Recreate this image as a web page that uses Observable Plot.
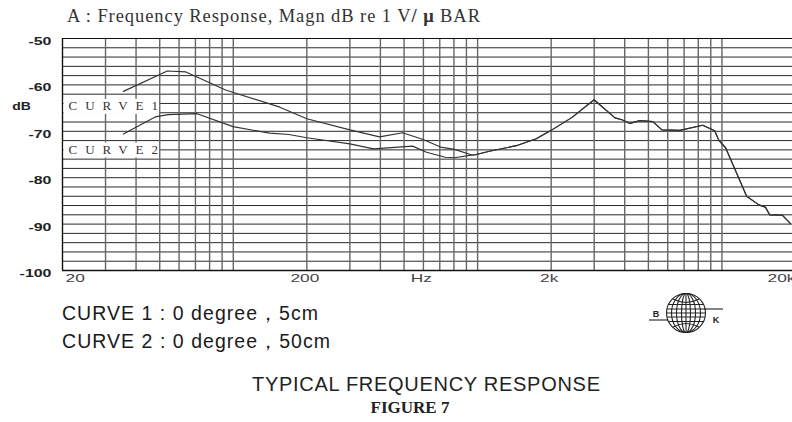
<!DOCTYPE html>
<html>
<head>
<meta charset="utf-8">
<script src="https://cdn.jsdelivr.net/npm/d3@7"></script>
<script src="https://cdn.jsdelivr.net/npm/@observablehq/plot@0.6"></script>
<style>
  body { margin: 0; background: #fff; }
  #wrap { position: relative; width: 792px; height: 422px; overflow: hidden; background: #fff; }
  #chart { position: absolute; left: 0; top: 0; }
  #overlay { position: absolute; left: 0; top: 0; pointer-events: none; }
  .curve-lab text { letter-spacing: 8px; }
</style>
</head>
<body>
<div id="wrap">
  <div id="chart"></div>
  <svg id="overlay" width="792" height="422" xmlns="http://www.w3.org/2000/svg">
    <text x="67" y="22" textLength="413" lengthAdjust="spacing" font-family="Liberation Serif, serif" font-size="18.5" fill="#333">A : Frequency Response, Magn dB re  1 V<tspan font-weight="bold">/</tspan> <tspan font-weight="bold">μ</tspan> BAR</text>
    <text id="n1" x="62" y="320" textLength="256" lengthAdjust="spacing" font-family="Liberation Sans, Arial, sans-serif" font-size="19.5" fill="#1a1a1a"></text>
    <text id="n2" x="62" y="348" textLength="268" lengthAdjust="spacing" font-family="Liberation Sans, Arial, sans-serif" font-size="19.5" fill="#1a1a1a"></text>
    <text id="t1" x="426" y="391" text-anchor="middle" textLength="348" lengthAdjust="spacing" font-family="Liberation Sans, Arial, sans-serif" font-size="20" fill="#222"></text>
    <text id="t2" x="410" y="413" text-anchor="middle" font-family="Liberation Serif, serif" font-weight="bold" font-size="17" fill="#222"></text>
    <g id="logo" stroke="#222" fill="none" stroke-width="1.1">
      <circle cx="686" cy="313" r="19.5" fill="#fff"/>
      <ellipse cx="686" cy="313" rx="4.5" ry="19.5"/>
      <ellipse cx="686" cy="313" rx="9.5" ry="19.5"/>
      <ellipse cx="686" cy="313" rx="14.5" ry="19.5"/>
      <line x1="686" y1="293.5" x2="686" y2="332.5"/>
      <line x1="668.5" y1="304.5" x2="703.5" y2="304.5"/>
      <line x1="667.2" y1="309" x2="704.8" y2="309"/>
      <line x1="666.5" y1="313" x2="705.5" y2="313"/>
      <line x1="667.2" y1="317" x2="704.8" y2="317"/>
      <line x1="668.5" y1="321.5" x2="703.5" y2="321.5"/>
      <path d="M673 299 Q686 306 699 299"/>
      <path d="M673 327 Q686 320 699 327"/>
      <line x1="649" y1="320" x2="668" y2="320"/>
      <line x1="704" y1="309" x2="723" y2="309"/>
      <text x="656" y="317" text-anchor="middle" font-family="Liberation Sans, Arial, sans-serif" font-weight="bold" font-size="9" fill="#222" stroke="none">B</text>
      <text x="716" y="323" text-anchor="middle" font-family="Liberation Sans, Arial, sans-serif" font-weight="bold" font-size="9" fill="#222" stroke="none">K</text>
    </g>
  </svg>
</div>
<script>
// ---- data ----
// Curve 1 (0 degree, 5 cm), low-frequency part
const curve1Freq = [35.5, 53.7, 64, 93, 104, 155, 200, 300, 397, 493, 595, 705, 804, 934];
const curve1Db   = [-61.4, -57.0, -57.2, -61.1, -61.9, -64.8, -67.3, -69.7, -71.2, -70.3, -71.7, -73.4, -73.9, -75.0];
// Curve 2 (0 degree, 50 cm), low-frequency part
const curve2Freq = [35.5, 47.9, 54.2, 71.1, 99.8, 141, 169, 200, 300, 375, 542, 618, 738, 804, 926];
const curve2Db   = [-70.6, -66.9, -66.4, -66.2, -69.0, -70.4, -70.7, -71.4, -72.7, -73.8, -73.2, -74.5, -75.6, -75.7, -75.2];
// Above ~1 kHz both curves coincide
const sharedFreq = [970, 1117, 1440, 1738, 2000, 2436, 2996, 3649, 3898, 4200, 4616, 5216, 5678, 6726, 8340, 9340, 9700, 10360, 12620, 14120, 15090, 15670, 17700, 19080];
const sharedDb   = [-75.1, -74.3, -73.1, -71.6, -69.8, -67.0, -63.2, -67.1, -67.5, -68.3, -67.7, -67.9, -69.7, -69.8, -68.7, -69.9, -71.9, -73.6, -84.0, -85.8, -86.4, -88.0, -88.1, -89.9];

// axis ticks / grid
const yTickValues = [-50, -60, -70, -80, -90, -100];
const yTickLabels = ["-50", "-60", "-70", "-80", "-90", "-100"];
const xLabelFreqs = [20, 200, 600, 2000, 20000];
const xLabelTexts = ["20", "200", "Hz", "2k", "20k"];
const gridFreqs = [30, 40, 50, 60, 70, 80, 90, 100, 200, 300, 400, 500, 600, 700, 800, 900, 1000,
                   2000, 3000, 4000, 5000, 6000, 7000, 8000, 9000, 10000, 20000];
const gridDb = d3.range(-100, -49, 2);

const curveNames = ["CURVE1", "CURVE2"];
const curveLabelDb = [-64.6, -74.0];

const notes = ["CURVE 1 : 0  degree\uFF0C5cm", "CURVE 2 : 0  degree\uFF0C50cm"];
const captionTitle = "TYPICAL FREQUENCY RESPONSE";
const captionFigure = "FIGURE 7";

// ---- build tables ----
const toRows = (fs, ds, name) => fs.map((f, i) => ({f, db: ds[i], curve: name}));
const c1 = toRows(curve1Freq.concat(sharedFreq), curve1Db.concat(sharedDb), "1");
const c2 = toRows(curve2Freq.concat(sharedFreq), curve2Db.concat(sharedDb), "2");
const yTicks = yTickValues.map((v, i) => ({v, t: yTickLabels[i]}));
const xLabs = xLabelFreqs.map((f, i) => ({f, t: xLabelTexts[i]}));
const cLabs = curveNames.map((n, i) => ({n, db: curveLabelDb[i]}));

const sans = "Liberation Sans, Arial, sans-serif";
const chart = Plot.plot({
  width: 792,
  height: 290,
  marginLeft: 62,
  marginRight: -3,
  marginTop: 38,
  marginBottom: 20,
  x: {type: "log", domain: [20, 20000], axis: null},
  y: {domain: [-100, -50], axis: null},
  marks: [
    Plot.ruleY(gridDb, {stroke: "#2a2a2a", strokeWidth: 1}),
    Plot.ruleX(gridFreqs, {stroke: "#666", strokeWidth: 1.4}),
    Plot.ruleX([20], {stroke: "#111", strokeWidth: 1.4}),
    Plot.ruleY([-100], {stroke: "#111", strokeWidth: 1.6}),
    Plot.ruleY([-50], {stroke: "#111", strokeWidth: 1.2}),
    Plot.line(c1, {x: "f", y: "db", stroke: "#333", strokeWidth: 1.15}),
    Plot.line(c2, {x: "f", y: "db", stroke: "#333", strokeWidth: 1.15}),
    // text marks, in this order: curve labels, y labels, x labels (3), dB
    Plot.text(cLabs, {x: 20, y: "db", text: "n", textAnchor: "start", dx: 6, fontFamily: "Liberation Serif, serif", fontSize: 13, fill: "#333"}),
    Plot.text(yTicks, {y: "v", text: "t", frameAnchor: "left", textAnchor: "end", dx: -11, dy: 3, fontFamily: sans, fontSize: 11, fontWeight: "bold", fill: "#222"}),
    Plot.text(xLabs.slice(0, 1), {x: "f", text: "t", frameAnchor: "bottom", textAnchor: "start", dx: 3, dy: 11, fontFamily: sans, fontSize: 10.5, fill: "#444"}),
    Plot.text(xLabs.slice(1, 4), {x: "f", text: "t", frameAnchor: "bottom", dx: -2, dy: 11, fontFamily: sans, fontSize: 10.5, fill: "#444"}),
    Plot.text(xLabs.slice(4), {x: "f", text: "t", frameAnchor: "bottom", dx: -14, dy: 11, fontFamily: sans, fontSize: 10.5, fill: "#444"}),
    Plot.text(["dB"], {text: d => d, frameAnchor: "left", y: -64, dx: -41, dy: 3, textAnchor: "middle", fontFamily: sans, fontSize: 10, fontWeight: "bold", fill: "#222"})
  ]
});
document.getElementById("chart").appendChild(chart);

const textGroups = chart.querySelectorAll('g[aria-label="text"]');
const [gCurve, gY, gX1, gX2, gX3, gDb] = textGroups;

// stretch the wide axis lettering horizontally (texts are positioned by a translate transform)
function stretch(g, sx) {
  if (!g) return;
  g.querySelectorAll("text").forEach(t => {
    const tr = t.getAttribute("transform") || "";
    t.setAttribute("transform", `${tr} scale(${sx},1)`);
  });
}
stretch(gY, 1.45);
stretch(gDb, 1.4);
[gX1, gX2, gX3].forEach(g => stretch(g, 1.65));

// white boxes behind the curve labels
if (gCurve) {
  gCurve.classList.add("curve-lab");
  gCurve.querySelectorAll("text").forEach(t => {
    const b = t.getBBox();
    const r = document.createElementNS("http://www.w3.org/2000/svg", "rect");
    r.setAttribute("x", b.x - 5);
    r.setAttribute("y", b.y + 0.5);
    r.setAttribute("width", Math.max(0, b.width - 2));
    r.setAttribute("height", b.height);
    r.setAttribute("fill", "#fff");
    r.setAttribute("stroke", "none");
    const tr = t.getAttribute("transform");
    if (tr) r.setAttribute("transform", tr);
    t.parentNode.insertBefore(r, t);
  });
}

document.getElementById("n1").textContent = notes[0];
document.getElementById("n2").textContent = notes[1];
document.getElementById("t1").textContent = captionTitle;
document.getElementById("t2").textContent = captionFigure;
</script>
</body>
</html>
